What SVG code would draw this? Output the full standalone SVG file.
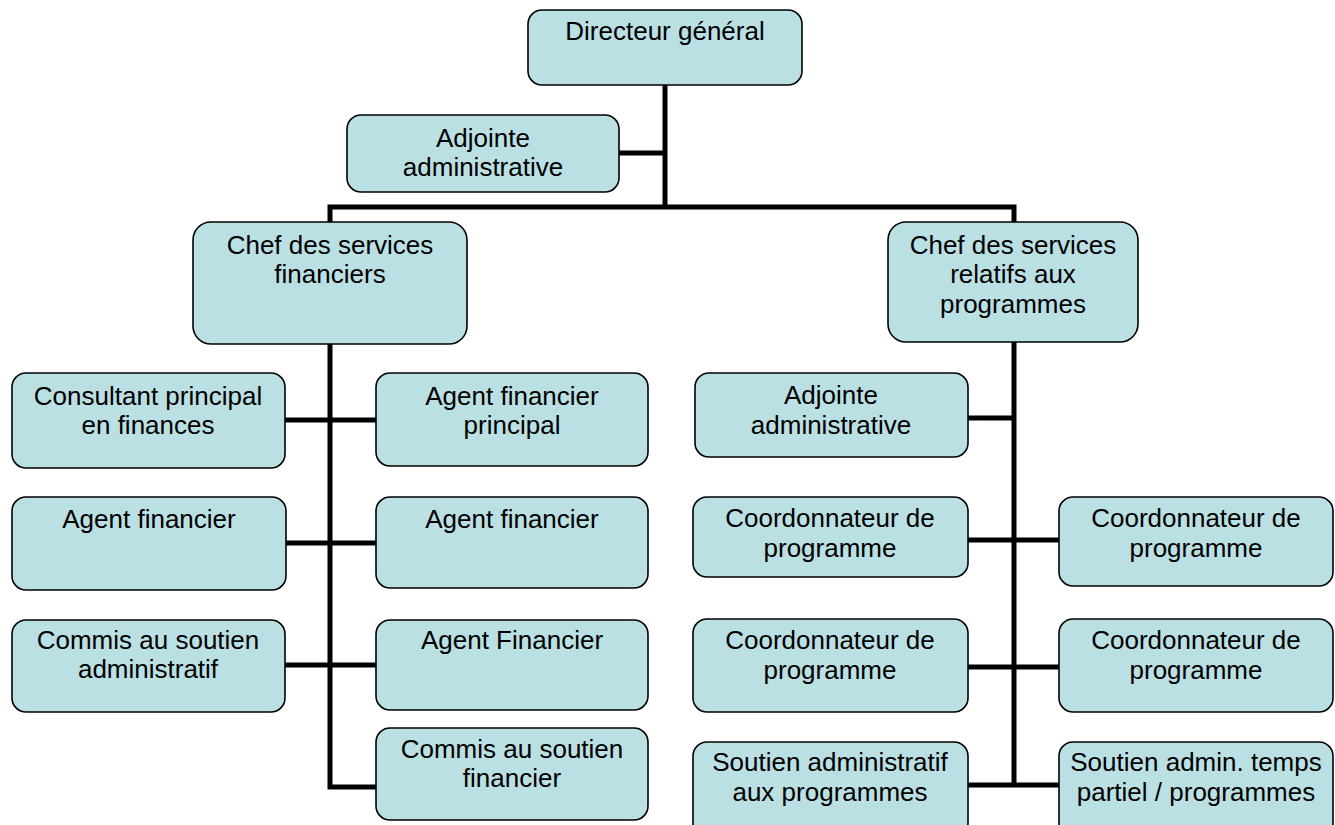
<svg xmlns="http://www.w3.org/2000/svg" width="1335" height="825" viewBox="0 0 1335 825">
<style>
.box{fill:#BAE0E3;stroke:#000;stroke-width:1.6}
.t{font-family:"Liberation Sans",Arial,sans-serif;font-size:26px;fill:#000;text-anchor:middle}
.c{fill:none;stroke:#000;stroke-width:5;stroke-linejoin:miter;stroke-linecap:butt}
</style>
<rect width="1335" height="825" fill="#fff"/>
<g id="connectors">
<path class="c" d="M665,85 V207"/>
<path class="c" d="M619,153 H665"/>
<path class="c" d="M330,222 V207 H1014 V222"/>
<path class="c" d="M330,344 V787 H376"/>
<path class="c" d="M285,420 H376"/>
<path class="c" d="M286,543 H376"/>
<path class="c" d="M285,665 H376"/>
<path class="c" d="M1014,342 V785"/>
<path class="c" d="M968,418 H1014"/>
<path class="c" d="M968,540 H1059"/>
<path class="c" d="M968,667 H1059"/>
<path class="c" d="M968,785 H1059"/>
</g>
<g id="n-directeur"><rect class="box" x="528" y="10" width="274" height="75" rx="14"/><text class="t" x="665" y="40">Directeur général</text></g>
<g id="n-adjointe-top"><rect class="box" x="347" y="115" width="272" height="77" rx="14"/><text class="t" x="483" y="147">Adjointe</text><text class="t" x="483" y="176">administrative</text></g>
<g id="n-chef-fin"><rect class="box" x="193" y="222" width="274" height="122" rx="18"/><text class="t" x="330" y="254">Chef des services</text><text class="t" x="330" y="283">financiers</text></g>
<g id="n-chef-prog"><rect class="box" x="888" y="222" width="250" height="120" rx="18"/><text class="t" x="1013" y="254">Chef des services</text><text class="t" x="1013" y="283">relatifs aux</text><text class="t" x="1013" y="313">programmes</text></g>
<g id="n-consultant"><rect class="box" x="12" y="373" width="273" height="95" rx="14"/><text class="t" x="148" y="405">Consultant principal</text><text class="t" x="148" y="434">en finances</text></g>
<g id="n-agent-principal"><rect class="box" x="376" y="373" width="272" height="93" rx="14"/><text class="t" x="512" y="405">Agent financier</text><text class="t" x="512" y="434">principal</text></g>
<g id="n-agent-fin-l"><rect class="box" x="12" y="497" width="274" height="93" rx="14"/><text class="t" x="149" y="528">Agent financier</text></g>
<g id="n-agent-fin-r"><rect class="box" x="376" y="497" width="272" height="91" rx="14"/><text class="t" x="512" y="528">Agent financier</text></g>
<g id="n-commis-admin"><rect class="box" x="12" y="620" width="273" height="92" rx="14"/><text class="t" x="148" y="649">Commis au soutien</text><text class="t" x="148" y="678">administratif</text></g>
<g id="n-agent-fin-3"><rect class="box" x="376" y="620" width="272" height="90" rx="14"/><text class="t" x="512" y="649">Agent Financier</text></g>
<g id="n-commis-fin"><rect class="box" x="376" y="728" width="272" height="92" rx="14"/><text class="t" x="512" y="758">Commis au soutien</text><text class="t" x="512" y="787">financier</text></g>
<g id="n-adjointe-r"><rect class="box" x="695" y="373" width="273" height="84" rx="14"/><text class="t" x="831" y="404">Adjointe</text><text class="t" x="831" y="434">administrative</text></g>
<g id="n-coord-l1"><rect class="box" x="693" y="497" width="275" height="80" rx="14"/><text class="t" x="830" y="527">Coordonnateur de</text><text class="t" x="830" y="557">programme</text></g>
<g id="n-coord-r1"><rect class="box" x="1059" y="497" width="274" height="89" rx="14"/><text class="t" x="1196" y="527">Coordonnateur de</text><text class="t" x="1196" y="557">programme</text></g>
<g id="n-coord-l2"><rect class="box" x="693" y="619" width="275" height="93" rx="14"/><text class="t" x="830" y="649">Coordonnateur de</text><text class="t" x="830" y="679">programme</text></g>
<g id="n-coord-r2"><rect class="box" x="1059" y="619" width="274" height="93" rx="14"/><text class="t" x="1196" y="649">Coordonnateur de</text><text class="t" x="1196" y="679">programme</text></g>
<g id="n-soutien-l"><rect class="box" x="693" y="742" width="275" height="95" rx="14"/><text class="t" x="830" y="771">Soutien administratif</text><text class="t" x="830" y="801">aux programmes</text></g>
<g id="n-soutien-r"><rect class="box" x="1059" y="742" width="274" height="95" rx="14"/><text class="t" x="1196" y="771">Soutien admin. temps</text><text class="t" x="1196" y="801">partiel / programmes</text></g>
</svg>
